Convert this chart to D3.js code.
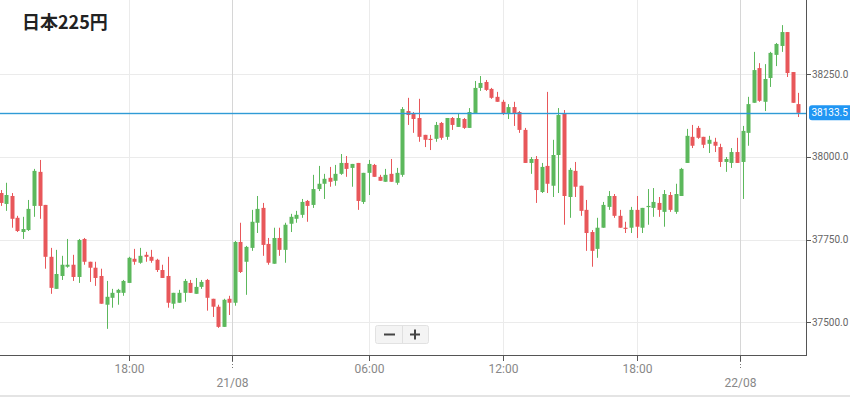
<!DOCTYPE html>
<html><head><meta charset="utf-8">
<script src="https://cdn.jsdelivr.net/npm/d3@7/dist/d3.min.js"></script>
<style>
html,body{margin:0;padding:0;background:#fff;}
svg{display:block;}
</style></head>
<body>
<svg id="chart" width="850" height="397"></svg>
<script>
const title = "日本225円";
const opens  = [37891,37858,37882,37816,37773,37779,37852,37955,37855,37698,37601,37640,37668,37674,37637,37752,37683,37665,37640,37553,37574,37589,37589,37619,37692,37680,37704,37698,37689,37658,37640,37556,37559,37589,37619,37586,37607,37628,37571,37547,37486,37571,37559,37743,37683,37725,37801,37846,37737,37677,37755,37719,37798,37813,37825,37867,37855,37903,37919,37937,37928,37949,37982,37967,37982,37864,37952,37976,37940,37925,37949,37922,37946,38139,38130,38118,38067,38055,38055,38103,38061,38118,38091,38115,38088,38133,38209,38227,38206,38182,38167,38130,38151,38136,38082,37982,37994,37894,37973,37913,38006,38133,37879,37958,37913,37840,37773,37722,37786,37849,37882,37822,37786,37786,37840,37786,37849,37846,37861,37834,37885,37834,37882,37982,38061,38088,38061,38040,38046,38030,37985,37982,38015,37985,38073,38164,38269,38167,38239,38309,38336,38378,38257,38160];
const highs  = [37900,37922,37891,37822,37819,37870,37964,37991,37855,37725,37719,37701,37752,37704,37752,37755,37683,37683,37662,37625,37601,37601,37628,37698,37722,37725,37713,37719,37692,37674,37698,37589,37598,37631,37628,37634,37628,37631,37571,37553,37571,37580,37746,37801,37731,37840,37882,37861,37755,37786,37786,37801,37828,37837,37873,37870,37946,37973,37949,37970,37976,38009,38003,37979,37982,37952,37991,37979,37946,37964,37994,37967,38151,38179,38136,38176,38067,38067,38106,38106,38118,38121,38130,38118,38148,38230,38245,38233,38209,38197,38173,38160,38167,38139,38088,38000,38003,37982,38197,38052,38148,38142,37967,37985,37913,37870,37779,37816,37864,37897,37888,37840,37804,37849,37882,37846,37903,37906,37879,37900,37894,37919,37967,38085,38097,38094,38061,38064,38058,38040,38000,38027,38058,38094,38182,38318,38284,38281,38318,38345,38399,38378,38257,38194];
const lows   = [37852,37837,37786,37773,37752,37776,37819,37813,37662,37586,37601,37628,37665,37625,37619,37674,37622,37610,37556,37480,37544,37553,37580,37619,37674,37677,37683,37680,37652,37634,37544,37541,37559,37562,37589,37586,37601,37535,37516,37483,37486,37522,37550,37649,37583,37716,37770,37701,37674,37677,37701,37680,37773,37801,37816,37804,37846,37897,37873,37910,37913,37946,37940,37910,37840,37858,37885,37940,37928,37925,37925,37916,37940,38097,38073,38046,38030,38021,38046,38052,38052,38082,38091,38085,38088,38133,38200,38200,38176,38167,38127,38115,38094,38073,37982,37949,37861,37891,37891,37879,37891,37795,37816,37879,37822,37716,37668,37695,37786,37840,37816,37786,37770,37770,37755,37770,37795,37819,37819,37789,37834,37828,37882,37982,38027,38055,38027,38012,38015,37970,37955,37967,37982,37873,38034,38164,38167,38139,38212,38275,38318,38242,38164,38121];
const closes = [37861,37885,37813,37776,37782,37843,37958,37852,37698,37604,37646,37674,37674,37637,37749,37683,37665,37634,37556,37577,37589,37598,37625,37695,37683,37701,37698,37686,37658,37634,37559,37589,37589,37625,37589,37607,37622,37574,37547,37486,37568,37559,37743,37652,37728,37804,37843,37734,37680,37755,37719,37795,37819,37825,37864,37852,37903,37919,37934,37925,37949,37982,37964,37979,37867,37952,37979,37940,37928,37946,37925,37952,38145,38127,38115,38061,38052,38052,38097,38058,38118,38097,38118,38088,38136,38209,38224,38203,38179,38167,38133,38151,38133,38082,37982,37994,37900,37970,37919,38006,38127,37882,37961,37910,37837,37770,37716,37786,37855,37882,37822,37786,37783,37840,37789,37846,37852,37864,37840,37888,37840,37888,37964,38064,38034,38058,38037,38052,38034,37985,37994,38015,37982,38079,38160,38263,38170,38236,38315,38342,38378,38254,38164,38133.5];
const lastPrice = 38133.5;
const yTicks = [37500, 37750, 38000, 38250];
const timeTickIdx = [23, 66, 90, 114];
const timeTickLabels = ["18:00", "06:00", "12:00", "18:00"];
const dateTickIdx = [41.5, 132.5];
const dateTickLabels = ["21/08", "22/08"];

const svg = d3.select("#chart");
const W = 850, H = 397;
const plotR = 806, plotB = 355;
const green = "#5cb85c", red = "#e8575a";

svg.append("rect").attr("width", W).attr("height", H).attr("fill", "#fff");
svg.append("rect").attr("x", 0).attr("y", 395).attr("width", W).attr("height", 2).attr("fill", "#e4e4e4");

const x = d3.scaleLinear().domain([0, opens.length - 1]).range([0.5, 798.3]);
const y = d3.scaleLinear().domain([37400, 38475]).range([355.3, 0]);
const cx = v => Math.round(x(v)) + 0.5;
const cy = v => Math.round(y(v)) + 0.5;

// grid
const grid = svg.append("g");
grid.selectAll(".hg").data(yTicks).join("line")
  .attr("x1", 0).attr("x2", plotR).attr("y1", d => cy(d)).attr("y2", d => cy(d))
  .attr("stroke", "#ebebeb");
grid.selectAll(".vg").data(timeTickIdx).join("line")
  .attr("x1", d => cx(d)).attr("x2", d => cx(d)).attr("y1", 0).attr("y2", plotB)
  .attr("stroke", "#ebebeb");
grid.selectAll(".dg").data(dateTickIdx).join("line")
  .attr("x1", d => cx(d)).attr("x2", d => cx(d)).attr("y1", 0).attr("y2", plotB)
  .attr("stroke", "#d6d6d6");

// candles
const idx = d3.range(opens.length);
const cg = svg.append("g");
cg.selectAll(".wick").data(idx).join("line")
  .attr("x1", i => cx(i)).attr("x2", i => cx(i))
  .attr("y1", i => y(highs[i])).attr("y2", i => y(lows[i]))
  .attr("stroke", i => closes[i] >= opens[i] ? green : red).attr("stroke-width", 1);
cg.selectAll(".body").data(idx).join("rect")
  .attr("x", i => cx(i) - 2)
  .attr("width", 4)
  .attr("y", i => y(Math.max(opens[i], closes[i])))
  .attr("height", i => Math.max(1.2, Math.abs(y(opens[i]) - y(closes[i]))))
  .attr("fill", i => closes[i] >= opens[i] ? green : red);

// axes lines
svg.append("line").attr("x1", plotR + 0.5).attr("x2", plotR + 0.5).attr("y1", 0).attr("y2", plotB + 1).attr("stroke", "#555");
svg.append("line").attr("x1", 0).attr("x2", plotR + 1).attr("y1", plotB + 0.5).attr("y2", plotB + 0.5).attr("stroke", "#555");

// y axis ticks & labels
const ya = svg.append("g");
ya.selectAll("line").data(yTicks).join("line")
  .attr("x1", plotR).attr("x2", plotR + 5).attr("y1", d => cy(d)).attr("y2", d => cy(d)).attr("stroke", "#555");
ya.selectAll("text").data(yTicks).join("text")
  .attr("x", 812).attr("y", d => y(d)).attr("dy", "0.35em")
  .attr("font-family", "Roboto, sans-serif").attr("font-size", 10).attr("fill", "#666")
  .text(d => d3.format(".1f")(d));

// x axis
const xa = svg.append("g");
xa.selectAll(".tt").data(timeTickIdx).join("line")
  .attr("x1", d => cx(d)).attr("x2", d => cx(d)).attr("y1", plotB).attr("y2", plotB + 6).attr("stroke", "#555");
xa.selectAll(".tl").data(timeTickIdx).join("text")
  .attr("x", d => cx(d)).attr("y", 369).attr("dy", "0.35em").attr("text-anchor", "middle")
  .attr("font-family", "Roboto, sans-serif").attr("font-size", 12).attr("fill", "#888")
  .text((d, i) => timeTickLabels[i]);
xa.selectAll(".dt").data(dateTickIdx).join("line")
  .attr("x1", d => cx(d)).attr("x2", d => cx(d)).attr("y1", plotB).attr("y2", plotB + 6).attr("stroke", "#555");
xa.selectAll(".dd").data(dateTickIdx).join("line")
  .attr("x1", d => cx(d)).attr("x2", d => cx(d)).attr("y1", plotB + 6).attr("y2", plotB + 14)
  .attr("stroke", "#777").attr("stroke-dasharray", "1,2");
xa.selectAll(".dl").data(dateTickIdx).join("text")
  .attr("x", d => cx(d)).attr("y", 383).attr("dy", "0.35em").attr("text-anchor", "middle")
  .attr("font-family", "Roboto, sans-serif").attr("font-size", 12).attr("fill", "#888")
  .text((d, i) => dateTickLabels[i]);

// last price line and label
svg.append("rect").attr("x", 0).attr("y", Math.round(y(lastPrice)) - 0.2).attr("width", plotR).attr("height", 1.4)
  .attr("fill", "#2f9bd6");
svg.append("rect").attr("x", 809).attr("y", y(lastPrice) - 7.5).attr("width", 45).attr("height", 15).attr("rx", 3)
  .attr("fill", "#2196f3");
svg.append("text").attr("x", 811.5).attr("y", y(lastPrice)).attr("dy", "0.35em")
  .attr("font-family", "Roboto, sans-serif").attr("font-size", 10).attr("fill", "#fff")
  .text(d3.format(".1f")(lastPrice));

// title
svg.append("text").attr("x", 22).attr("y", 29)
  .attr("font-family", "'Noto Sans CJK JP', 'Noto Sans', sans-serif").attr("font-weight", "bold")
  .attr("font-size", 18).attr("fill", "#222").text(title);

// zoom buttons
const zb = svg.append("g");
zb.append("rect").attr("x", 375.5).attr("y", 325.5).attr("width", 53).attr("height", 18).attr("rx", 2)
  .attr("fill", "#f4f4f4").attr("stroke", "#e2e2e2");
zb.append("line").attr("x1", 402.5).attr("x2", 402.5).attr("y1", 326).attr("y2", 343).attr("stroke", "#e0e0e0");
zb.append("line").attr("x1", 384).attr("x2", 395).attr("y1", 334.5).attr("y2", 334.5).attr("stroke", "#444").attr("stroke-width", 2);
zb.append("line").attr("x1", 410).attr("x2", 420).attr("y1", 334.5).attr("y2", 334.5).attr("stroke", "#444").attr("stroke-width", 2);
zb.append("line").attr("x1", 415).attr("x2", 415).attr("y1", 329.5).attr("y2", 339.5).attr("stroke", "#444").attr("stroke-width", 2);
</script>
</body></html>
